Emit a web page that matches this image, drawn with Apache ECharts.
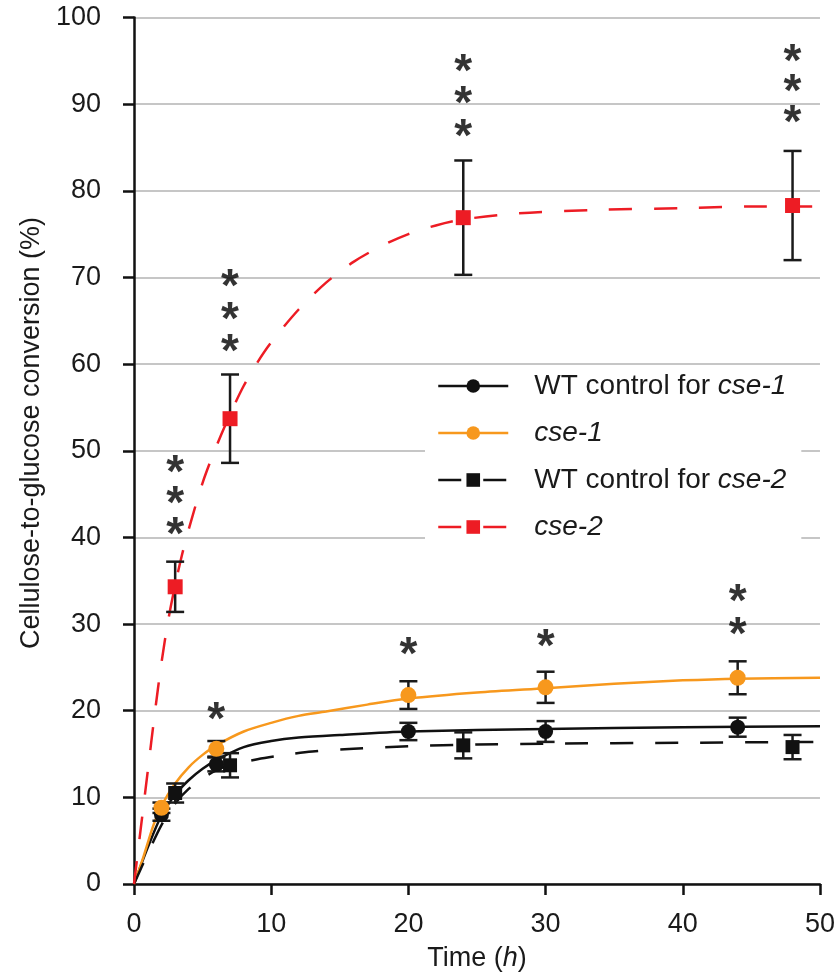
<!DOCTYPE html>
<html>
<head>
<meta charset="utf-8">
<script src="https://cdn.jsdelivr.net/npm/echarts@6/dist/echarts.min.js"></script>
<style>
  html, body { margin: 0; padding: 0; background: #fff; }
  #chart { width: 838px; height: 977px; }
</style>
</head>
<body>
<div id="chart"></div>
<script>
// sampling times (h)
const timesCse1 = [2, 6, 20, 30, 44];
const timesCse2 = [3, 7, 24, 48];

// means and standard errors
const wt1Mean = [8.0, 13.8, 17.6, 17.6, 18.1];
const wt1Err = [0.7, 0.8, 1.0, 1.2, 1.1];
const cse1Mean = [8.8, 15.6, 21.8, 22.7, 23.8];
const cse1Err = [0.6, 0.9, 1.6, 1.8, 1.9];
const wt2Mean = [10.5, 13.7, 16.0, 15.8];
const wt2Err = [1.1, 1.4, 1.5, 1.4];
const cse2Mean = [34.3, 53.7, 76.9, 78.3];
const cse2Err = [2.9, 5.1, 6.6, 6.3];

// fitted curves as [time, value]
const wt1Curve = [[0, 0], [1, 4.2], [2, 7.9], [3, 10.3], [4, 12], [5, 13.3], [6, 14.3], [8, 15.8], [10, 16.5], [12, 16.9], [15, 17.2], [20, 17.6], [30, 17.9], [40, 18.1], [50, 18.2]];
const cse1Curve = [[0, 0], [0.7, 3.2], [1.4, 6.7], [2, 9], [3, 11.6], [4, 13.5], [5, 14.9], [6, 16], [8, 17.6], [10, 18.6], [12, 19.4], [14, 19.9], [17, 20.7], [20, 21.4], [25, 22.1], [30, 22.6], [35, 23.1], [40, 23.5], [44, 23.7], [50, 23.8]];
const wt2Curve = [[0, 0], [1, 3.5], [2, 6.8], [3, 9.3], [4, 11], [5, 12.2], [6, 13.1], [7, 13.7], [9, 14.4], [11, 14.9], [13, 15.3], [16, 15.6], [20, 15.9], [25, 16.1], [30, 16.2], [40, 16.3], [50, 16.4]];
const cse2Curve = [[0, 0], [0.5, 6.5], [1, 13], [1.5, 19.5], [2, 25.5], [2.5, 30.5], [3, 34.5], [3.5, 38], [4, 41], [5, 46.3], [6, 50.5], [7, 54.2], [8, 57.5], [9, 60.2], [10, 62.5], [12, 66.3], [14, 69.4], [16, 71.8], [18, 73.6], [20, 75], [22, 76], [24, 76.7], [28, 77.4], [34, 77.8], [40, 78], [46, 78.2], [50, 78.2]];

// significance asterisks, one entry per star
const stars = [
  [3, 48.4], [3, 44.9], [3, 41.3],
  [7, 69.9], [7, 66.1], [7, 62.4],
  [24, 94.7], [24, 91.0], [24, 87.2],
  [48, 95.9], [48, 92.4], [48, 88.8],
  [6, 19.9], [20, 27.4], [30, 28.3],
  [44, 33.6], [44, 29.7]
];

const seriesNames = ["WT control for cse-1", "cse-1", "WT control for cse-2", "cse-2"];

const FONT = "'Liberation Sans', Arial, sans-serif";
const RED = "#ed1c24";
const ORANGE = "#f7981d";
const BLACK = "#111";

const pairs = (xs, ys) => xs.map((x, i) => [x, ys[i]]);

// 误差线
const errorSeries = (xs, means, errs) => ({
  type: "custom",
  silent: true,
  z: 3,
  encode: { x: 0, y: [1, 2] },
  data: xs.map((x, i) => [x, means[i] - errs[i], means[i] + errs[i]]),
  renderItem: (params, api) => {
    const lo = api.coord([api.value(0), api.value(1)]);
    const hi = api.coord([api.value(0), api.value(2)]);
    const w = 9;
    const style = { stroke: "#1a1a1a", lineWidth: 2.5 };
    return {
      type: "group",
      children: [
        { type: "line", shape: { x1: hi[0], y1: hi[1], x2: lo[0], y2: lo[1] }, style },
        { type: "line", shape: { x1: hi[0] - w, y1: hi[1], x2: hi[0] + w, y2: hi[1] }, style },
        { type: "line", shape: { x1: lo[0] - w, y1: lo[1], x2: lo[0] + w, y2: lo[1] }, style },
      ],
    };
  },
});

const curveSeries = (name, data, color, symbol, dashed) => ({
  name,
  type: "line",
  data,
  smooth: 0.3,
  showSymbol: false,
  symbol,
  symbolSize: 16,
  z: 2,
  itemStyle: { color },
  lineStyle: { color, width: 2.5, type: dashed ? [23, 22] : "solid" },
});

const markerSeries = (xs, ys, color, symbol, size) => ({
  type: "scatter",
  data: pairs(xs, ys),
  symbol,
  symbolSize: size,
  itemStyle: { color, opacity: 1 },
  z: 4,
  silent: true,
});

const chart = echarts.init(document.getElementById("chart"));

const option = {
  animation: false,
  backgroundColor: "#fff",
  grid: { left: 134, right: 17, top: 17.5, bottom: 92.5 },
  xAxis: {
    type: "value",
    min: 0,
    max: 50,
    interval: 10,
    name: "{n|Time (}{i|h}{n|)}",
    nameLocation: "middle",
    nameGap: 61,
    nameTextStyle: {
      rich: {
        n: { fontSize: 27, fontFamily: FONT, color: "#1a1a1a" },
        i: { fontSize: 27, fontFamily: FONT, color: "#1a1a1a", fontStyle: "italic" },
      },
    },
    axisLine: { lineStyle: { color: BLACK, width: 2.5 } },
    axisTick: { length: 11, lineStyle: { color: BLACK, width: 2.5 } },
    axisLabel: { fontSize: 27, fontFamily: FONT, color: "#1a1a1a", margin: 27 },
    splitLine: { show: false },
  },
  yAxis: {
    type: "value",
    min: 0,
    max: 100,
    interval: 10,
    axisLine: { show: true, lineStyle: { color: BLACK, width: 2.5 } },
    axisTick: { show: true, length: 11, lineStyle: { color: BLACK, width: 2.5 } },
    axisLabel: { fontSize: 27, fontFamily: FONT, color: "#1a1a1a", margin: 33 },
    splitLine: { lineStyle: { color: "#c6c6c6", width: 2 } },
  },
  legend: {
    data: seriesNames,
    orient: "vertical",
    left: 425,
    top: 368,
    padding: [4, 15, 0, 12],
    backgroundColor: "#fff",
    selectedMode: false,
    itemWidth: 70,
    itemHeight: 17,
    itemGap: 19,
    lineStyle: { width: 2.5 },
    formatter: (name) => {
      const m = name.match(/^(.*?)(cse-\d)$/);
      return "{sp|}" + (m[1] ? "{n|" + m[1] + "}" : "") + "{i|" + m[2] + "}";
    },
    textStyle: {
      fontSize: 28,
      lineHeight: 24,
      rich: {
        sp: { width: 21, lineHeight: 24, fontSize: 28 },
        n: { fontSize: 28, fontFamily: FONT, color: "#1a1a1a", lineHeight: 24 },
        i: { fontSize: 28, fontFamily: FONT, color: "#1a1a1a", fontStyle: "italic", lineHeight: 24 },
      },
    },
  },
  graphic: [
    {
      type: "text",
      x: 32,
      y: 433,
      rotation: Math.PI / 2,
      style: {
        text: "Cellulose-to-glucose conversion (%)",
        fontSize: 27,
        fontFamily: FONT,
        fill: "#1a1a1a",
        align: "center",
        verticalAlign: "middle",
      },
    },
  ],
  series: [
    curveSeries(seriesNames[0], wt1Curve, BLACK, "circle", false),
    curveSeries(seriesNames[1], cse1Curve, ORANGE, "circle", false),
    curveSeries(seriesNames[2], wt2Curve, BLACK, "rect", true),
    curveSeries(seriesNames[3], cse2Curve, RED, "rect", true),
    errorSeries(timesCse1, wt1Mean, wt1Err),
    errorSeries(timesCse1, cse1Mean, cse1Err),
    errorSeries(timesCse2, wt2Mean, wt2Err),
    errorSeries(timesCse2, cse2Mean, cse2Err),
    markerSeries(timesCse2, wt2Mean, BLACK, "rect", 14),
    markerSeries(timesCse1, wt1Mean, BLACK, "circle", 15),
    markerSeries(timesCse1, cse1Mean, ORANGE, "circle", 16),
    markerSeries(timesCse2, cse2Mean, RED, "rect", 15),
    {
      type: "scatter",
      data: stars,
      symbolSize: 1,
      itemStyle: { color: "rgba(0,0,0,0)" },
      silent: true,
      z: 5,
      label: {
        show: true,
        formatter: "*",
        position: "inside",
        fontSize: 46,
        fontWeight: "bold",
        fontFamily: FONT,
        color: "#000",
        offset: [0, 10],
      },
    },
  ],
};

chart.setOption(option);
</script>
</body>
</html>
